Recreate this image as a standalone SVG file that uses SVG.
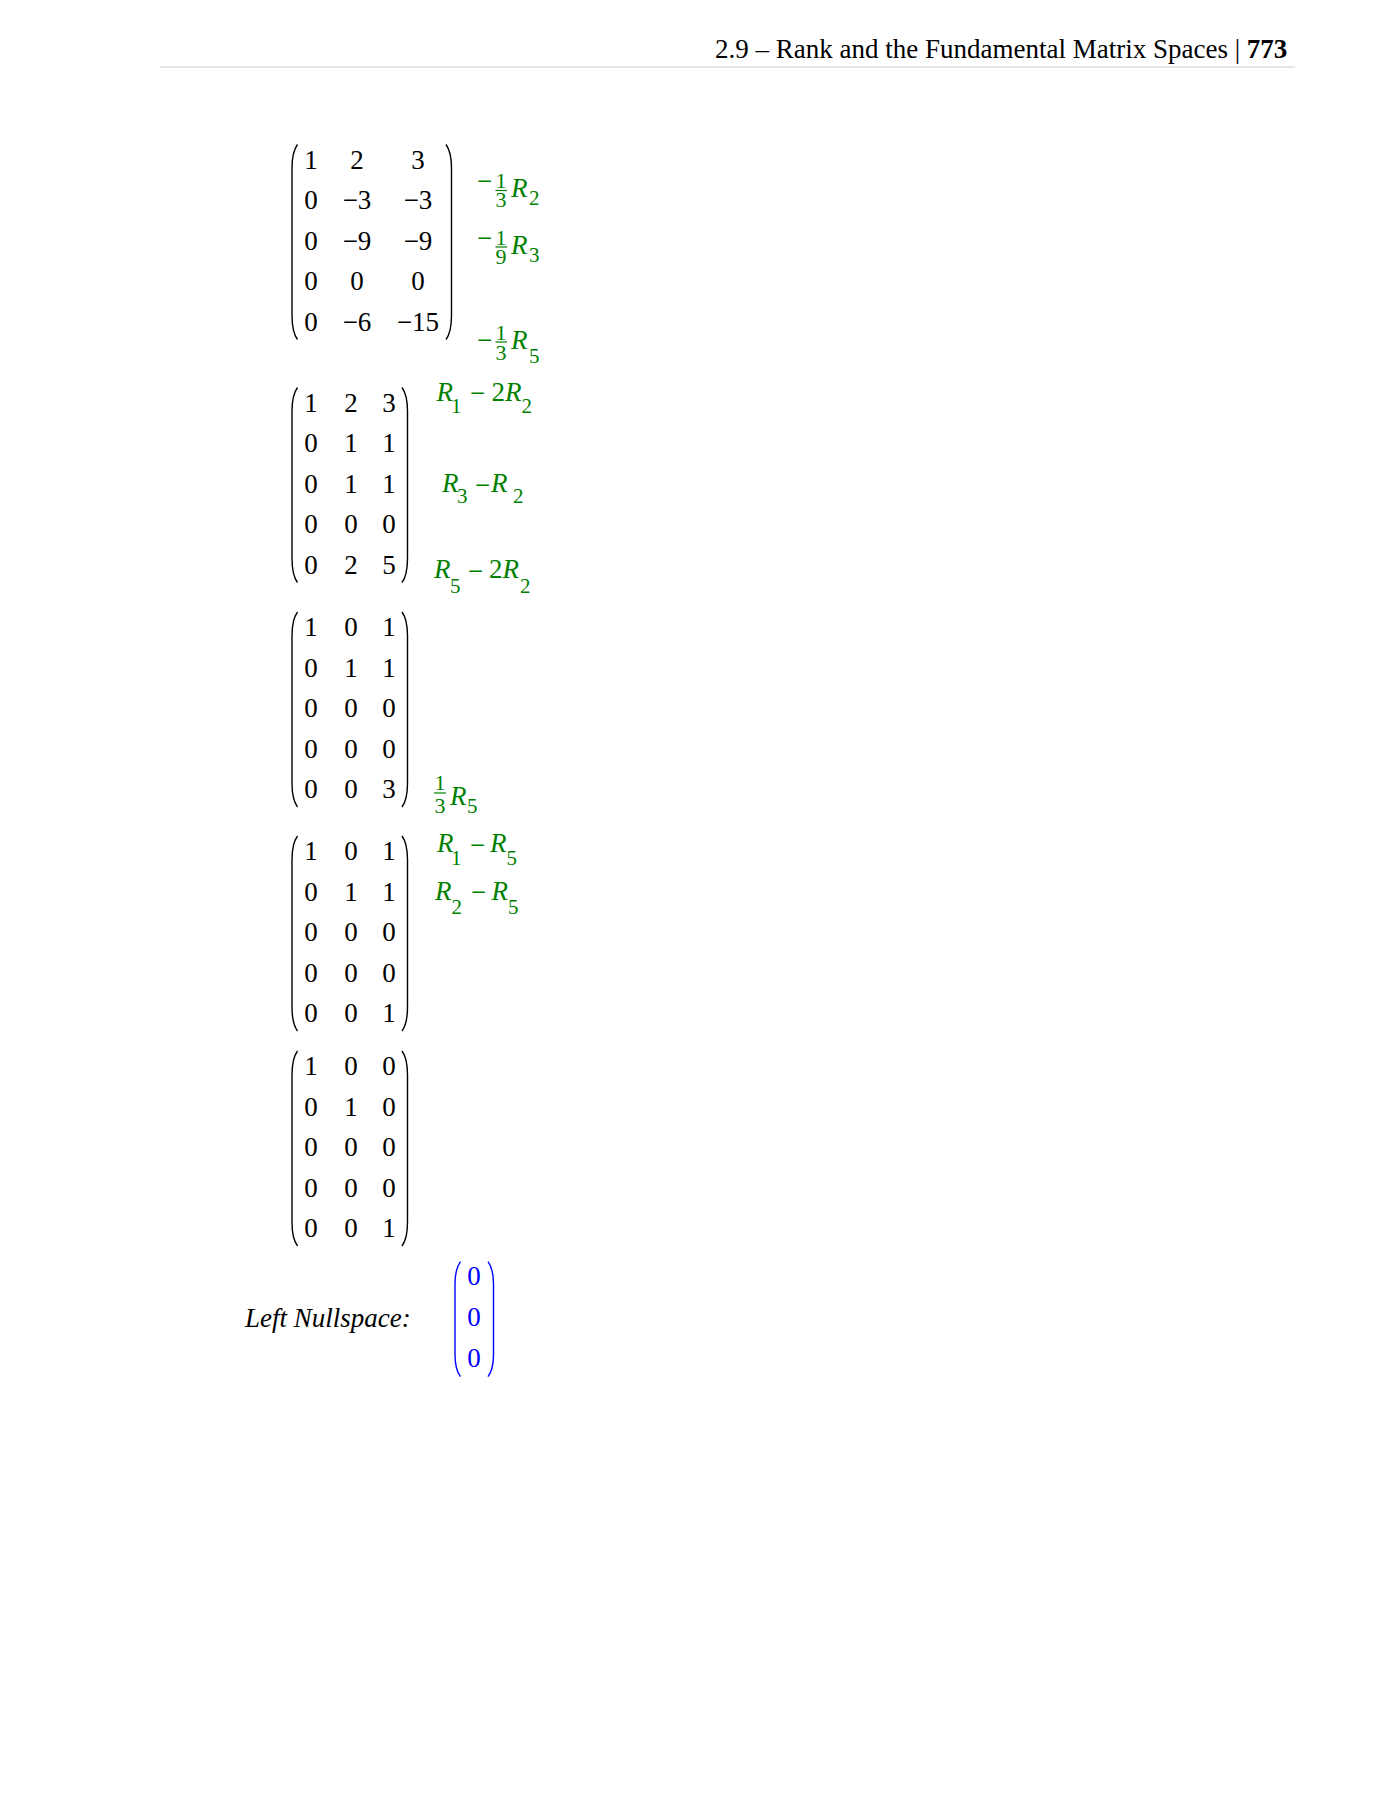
<svg xmlns="http://www.w3.org/2000/svg" xmlns:xlink="http://www.w3.org/1999/xlink" width="1390" height="1800" viewBox="0 0 1390 1800">
<style>
.hdr{font-family:"Liberation Serif","Times New Roman",serif;font-size:27px;fill:#000}
.m{font-family:"Liberation Serif","Times New Roman",serif;font-size:27px;fill:#000;text-anchor:middle}
.g{font-family:"Liberation Serif","Times New Roman",serif;font-size:27px;fill:#008000}
.gi{font-style:italic}
.gs{font-size:21px}
.gf{font-size:22px;text-anchor:middle}
.bar{stroke:#008000;stroke-width:1.2}
.p{fill:none;stroke:#000;stroke-width:1.4}
.pb{fill:none;stroke:#0000ff;stroke-width:1.4}
.b{font-family:"Liberation Serif","Times New Roman",serif;font-size:27px;fill:#0000ff;text-anchor:middle}
.lbl{font-family:"Liberation Serif","Times New Roman",serif;font-size:27px;fill:#000;font-style:italic}
</style>
<defs>
<path id="lp" d="M5.5,0 C1.8,5 0,13 0,24 L0,171 C0,182 1.8,190 5.5,195"/>
<path id="rp" d="M0,0 C3.7,5 5.5,13 5.5,24 L5.5,171 C5.5,182 3.7,190 0,195"/>
<path id="lpv" d="M5.5,0 C1.8,5 0,12 0,22 L0,93 C0,103 1.8,110 5.5,115"/>
<path id="rpv" d="M0,0 C3.7,5 5.5,12 5.5,22 L5.5,93 C5.5,103 3.7,110 0,115"/>
</defs>
<rect width="1390" height="1800" fill="#fff"/>

<g id="header">
<text class="hdr" x="715" y="58">2.9 – Rank and the Fundamental Matrix Spaces | <tspan font-weight="bold">773</tspan></text>
<line x1="160" y1="67" x2="1295" y2="67" stroke="#dddddd" stroke-width="1.5"/>
</g>

<g id="matrix1">
<use xlink:href="#lp" class="p" x="292" y="144.5"/>
<use xlink:href="#rp" class="p" x="446" y="144.5"/>
<text class="m" y="168.5"><tspan x="311">1</tspan><tspan x="357">2</tspan><tspan x="418">3</tspan></text>
<text class="m" y="209.1"><tspan x="311">0</tspan><tspan x="357">−3</tspan><tspan x="418">−3</tspan></text>
<text class="m" y="249.7"><tspan x="311">0</tspan><tspan x="357">−9</tspan><tspan x="418">−9</tspan></text>
<text class="m" y="290.3"><tspan x="311">0</tspan><tspan x="357">0</tspan><tspan x="418">0</tspan></text>
<text class="m" y="330.9"><tspan x="311">0</tspan><tspan x="357">−6</tspan><tspan x="418">−15</tspan></text>
</g>

<g id="ops1">
<text class="g" x="477" y="190">−</text>
<text class="g gf" x="501" y="188.3">1</text>
<line class="bar" x1="495.5" y1="190.5" x2="507" y2="190.5"/>
<text class="g gf" x="501" y="207">3</text>
<text class="g gi" x="511" y="196.7">R</text>
<text class="g gs" x="529" y="205">2</text>

<text class="g" x="477" y="246.8">−</text>
<text class="g gf" x="501" y="245">1</text>
<line class="bar" x1="495.5" y1="247" x2="507" y2="247"/>
<text class="g gf" x="501" y="263.5">9</text>
<text class="g gi" x="511" y="254">R</text>
<text class="g gs" x="529" y="261.7">3</text>

<text class="g" x="477" y="349">−</text>
<text class="g gf" x="501" y="340">1</text>
<line class="bar" x1="495.5" y1="342" x2="507" y2="342"/>
<text class="g gf" x="501" y="359.5">3</text>
<text class="g gi" x="511" y="349">R</text>
<text class="g gs" x="529" y="363">5</text>
</g>

<g id="matrix2">
<use xlink:href="#lp" class="p" x="292" y="387.5"/>
<use xlink:href="#rp" class="p" x="402" y="387.5"/>
<text class="m" y="411.5"><tspan x="311">1</tspan><tspan x="351">2</tspan><tspan x="389">3</tspan></text>
<text class="m" y="452.1"><tspan x="311">0</tspan><tspan x="351">1</tspan><tspan x="389">1</tspan></text>
<text class="m" y="492.7"><tspan x="311">0</tspan><tspan x="351">1</tspan><tspan x="389">1</tspan></text>
<text class="m" y="533.3"><tspan x="311">0</tspan><tspan x="351">0</tspan><tspan x="389">0</tspan></text>
<text class="m" y="573.9"><tspan x="311">0</tspan><tspan x="351">2</tspan><tspan x="389">5</tspan></text>
</g>

<g id="ops2">
<text class="g gi" x="436.5" y="400.7">R</text>
<text class="g gs" x="451" y="413.3">1</text>
<text class="g" x="470" y="401.8">−</text>
<text class="g" x="491.5" y="400.7">2<tspan class="gi">R</tspan></text>
<text class="g gs" x="521.5" y="413.3">2</text>

<text class="g gi" x="442" y="492.3">R</text>
<text class="g gs" x="457" y="502.7">3</text>
<text class="g" x="475" y="493.5">−</text>
<text class="g gi" x="491" y="492.3">R</text>
<text class="g gs" x="513" y="502.7">2</text>

<text class="g gi" x="434" y="578.3">R</text>
<text class="g gs" x="450" y="592.7">5</text>
<text class="g" x="468" y="579.8">−</text>
<text class="g" x="489" y="578.3">2<tspan class="gi">R</tspan></text>
<text class="g gs" x="520" y="592.7">2</text>
</g>

<g id="matrix3">
<use xlink:href="#lp" class="p" x="292" y="612"/>
<use xlink:href="#rp" class="p" x="402" y="612"/>
<text class="m" y="636"><tspan x="311">1</tspan><tspan x="351">0</tspan><tspan x="389">1</tspan></text>
<text class="m" y="676.6"><tspan x="311">0</tspan><tspan x="351">1</tspan><tspan x="389">1</tspan></text>
<text class="m" y="717.2"><tspan x="311">0</tspan><tspan x="351">0</tspan><tspan x="389">0</tspan></text>
<text class="m" y="757.8"><tspan x="311">0</tspan><tspan x="351">0</tspan><tspan x="389">0</tspan></text>
<text class="m" y="798.4"><tspan x="311">0</tspan><tspan x="351">0</tspan><tspan x="389">3</tspan></text>
</g>

<g id="ops3">
<text class="g gf" x="440" y="790">1</text>
<line class="bar" x1="434" y1="793" x2="446" y2="793"/>
<text class="g gf" x="440" y="813">3</text>
<text class="g gi" x="450" y="805">R</text>
<text class="g gs" x="467" y="813">5</text>
</g>

<g id="matrix4">
<use xlink:href="#lp" class="p" x="292" y="836"/>
<use xlink:href="#rp" class="p" x="402" y="836"/>
<text class="m" y="860"><tspan x="311">1</tspan><tspan x="351">0</tspan><tspan x="389">1</tspan></text>
<text class="m" y="900.6"><tspan x="311">0</tspan><tspan x="351">1</tspan><tspan x="389">1</tspan></text>
<text class="m" y="941.2"><tspan x="311">0</tspan><tspan x="351">0</tspan><tspan x="389">0</tspan></text>
<text class="m" y="981.8"><tspan x="311">0</tspan><tspan x="351">0</tspan><tspan x="389">0</tspan></text>
<text class="m" y="1022.4"><tspan x="311">0</tspan><tspan x="351">0</tspan><tspan x="389">1</tspan></text>
</g>

<g id="ops4">
<text class="g gi" x="437" y="851.7">R</text>
<text class="g gs" x="451" y="865">1</text>
<text class="g" x="470" y="853.5">−</text>
<text class="g gi" x="490" y="851.7">R</text>
<text class="g gs" x="506.5" y="865">5</text>

<text class="g gi" x="435" y="900">R</text>
<text class="g gs" x="451.5" y="914">2</text>
<text class="g" x="471" y="900.8">−</text>
<text class="g gi" x="491.5" y="900">R</text>
<text class="g gs" x="508" y="914">5</text>
</g>

<g id="matrix5">
<use xlink:href="#lp" class="p" x="292" y="1051"/>
<use xlink:href="#rp" class="p" x="402" y="1051"/>
<text class="m" y="1075"><tspan x="311">1</tspan><tspan x="351">0</tspan><tspan x="389">0</tspan></text>
<text class="m" y="1115.6"><tspan x="311">0</tspan><tspan x="351">1</tspan><tspan x="389">0</tspan></text>
<text class="m" y="1156.2"><tspan x="311">0</tspan><tspan x="351">0</tspan><tspan x="389">0</tspan></text>
<text class="m" y="1196.8"><tspan x="311">0</tspan><tspan x="351">0</tspan><tspan x="389">0</tspan></text>
<text class="m" y="1237.4"><tspan x="311">0</tspan><tspan x="351">0</tspan><tspan x="389">1</tspan></text>
</g>

<g id="left-nullspace">
<text class="lbl" x="245" y="1327">Left Nullspace:</text>
<use xlink:href="#lpv" class="pb" x="455" y="1261.7"/>
<use xlink:href="#rpv" class="pb" x="488" y="1261.7"/>
<text class="b" x="474" y="1285">0</text>
<text class="b" x="474" y="1326">0</text>
<text class="b" x="474" y="1366.7">0</text>
</g>
</svg>
